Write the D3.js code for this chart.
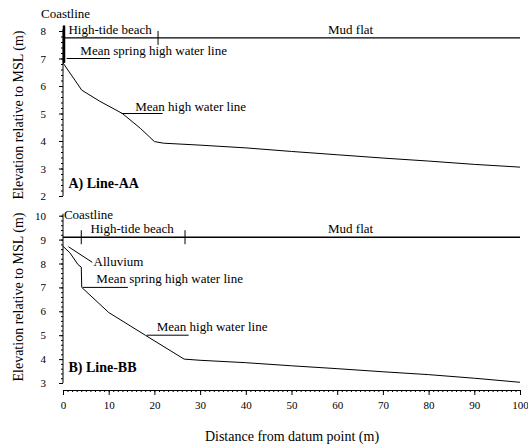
<!DOCTYPE html>
<html>
<head>
<meta charset="utf-8">
<script src="https://cdn.jsdelivr.net/npm/d3@7"></script>
<style>
  body { margin: 0; background: #fff; }
  text { fill: #000; }
</style>
</head>
<body>
<svg width="528" height="446"></svg>
<script>
// profile A (Line-AA): distance (m) and elevation (m)
const distA = [0, 4.1, 8, 13, 17, 20, 22, 30, 40, 50, 60, 70, 80, 90, 100];
const elevA = [6.84, 5.85, 5.45, 5.0, 4.45, 3.98, 3.92, 3.85, 3.75, 3.62, 3.5, 3.38, 3.27, 3.15, 3.05];
// profile B (Line-BB)
const distB = [0, 1.5, 3.3, 4.0, 4.1, 10, 18, 26.5, 30, 40, 50, 60, 70, 80, 90, 100];
const elevB = [8.72, 8.45, 7.95, 7.85, 7.0, 5.95, 5.0, 4.0, 3.95, 3.85, 3.72, 3.6, 3.47, 3.35, 3.2, 3.03];

// zone boundaries along the beach line
const zonesA = [0, 20.8];
const zonesB = [0, 4, 26.7];
const beachLevelA = 7.75;
const beachLevelB = 9.1;

const yTicksA = [2, 3, 4, 5, 6, 7, 8];
const yTicksB = [3, 4, 5, 6, 7, 8, 9, 10];
const xTicks = [0, 10, 20, 30, 40, 50, 60, 70, 80, 90, 100];

const serif = "'Liberation Serif', 'Times New Roman', Times, serif";

let svg = d3.select("svg");

let x = d3.scaleLinear().domain([0, 100]).range([63, 520]);
let yA = d3.scaleLinear().domain([2, 8]).range([196, 31]);
let yB = d3.scaleLinear().domain([3, 10]).range([383, 215.7]);

function yAxis(y, ticks) {
  let g = svg.append("g").attr("transform", "translate(" + x(0) + ",0)");
  g.call(d3.axisLeft(y).tickValues(d3.range(ticks[0], ticks[ticks.length - 1] + 0.01, 0.2))
    .tickSize(2).tickFormat(""));
  g.call((s) => s.selectAll(".domain").remove());
  let g2 = svg.append("g").attr("transform", "translate(" + x(0) + ",0)");
  g2.call(d3.axisLeft(y).tickValues(ticks).tickSize(4).tickPadding(13).tickFormat(d3.format("d")));
  g2.selectAll("text").style("font-size", "11px");
  g2.select(".domain").attr("d", "M-0," + y(ticks[0]) + "V" + (y(ticks[ticks.length - 1]) - 2));
}
yAxis(yA, yTicksA);
yAxis(yB, yTicksB);

// x axis
let gx = svg.append("g").attr("transform", "translate(0,390)");
gx.call(d3.axisBottom(x).tickValues(d3.range(0, 101, 1)).tickSize(2).tickFormat(""));
gx.select(".domain").remove();
let gx2 = svg.append("g").attr("transform", "translate(0,390)");
gx2.call(d3.axisBottom(x).tickValues(xTicks).tickSize(5).tickPadding(6).tickSizeOuter(0));
gx2.selectAll("text").style("font-size", "11px");

svg.selectAll(".tick line, .domain").attr("stroke", "#000");

// axis titles
svg.append("text").attr("transform", "translate(23,115) rotate(-90)")
  .attr("text-anchor", "middle").style("font-size", "14px")
  .text("Elevation relative to MSL (m)");
svg.append("text").attr("transform", "translate(23,297) rotate(-90)")
  .attr("text-anchor", "middle").style("font-size", "14px")
  .text("Elevation relative to MSL (m)");
svg.append("text").attr("x", 292).attr("y", 441)
  .attr("text-anchor", "middle").style("font-size", "14px")
  .text("Distance from datum point (m)");

let line = (y) => d3.line().x((d) => x(d[0])).y((d) => y(d[1]));

// profiles
svg.append("path").datum(d3.zip(distA, elevA))
  .attr("d", line(yA)).attr("fill", "none").attr("stroke", "#000").attr("stroke-width", 1);
svg.append("path").datum(d3.zip(distB, elevB))
  .attr("d", line(yB)).attr("fill", "none").attr("stroke", "#000").attr("stroke-width", 1);

// beach / mud flat lines
function zoneLine(y, level, zones) {
  svg.append("line").attr("x1", x(0)).attr("x2", x(100))
    .attr("y1", y(level)).attr("y2", y(level))
    .attr("stroke", "#000").attr("stroke-width", 1.4);
  svg.selectAll(null).data(zones.slice(1)).enter().append("line")
    .attr("x1", (d) => x(d)).attr("x2", (d) => x(d))
    .attr("y1", y(level) - 7).attr("y2", y(level) + 7)
    .attr("stroke", "#000").attr("stroke-width", 1);
}
zoneLine(yA, beachLevelA, zonesA);
zoneLine(yB, beachLevelB, zonesB);

// coastline bar on A
svg.append("line").attr("x1", x(0) + 1).attr("x2", x(0) + 1)
  .attr("y1", yA(8.2)).attr("y2", yA(6.84))
  .attr("stroke", "#000").attr("stroke-width", 2.5);

function label(tx, ty, txt, size, weight) {
  svg.append("text").attr("x", tx).attr("y", ty)
    .style("font-size", (size || 13) + "px")
    .style("font-weight", weight || "normal")
    .text(txt);
}
function leader(x1, y1, x2, y2) {
  svg.append("line").attr("x1", x1).attr("y1", y1).attr("x2", x2).attr("y2", y2)
    .attr("stroke", "#000").attr("stroke-width", 1);
}

// panel A annotations
label(41, 18, "Coastline");
label(x(1.2), yA(7.75) - 4, "High-tide beach");
label(x(58), yA(7.75) - 4, "Mud flat");
leader(x(0.8), yA(7.0), x(10.3), yA(7.0));
label(x(3.8), yA(7.0) - 4, "Mean spring high water line");
leader(x(12.8), yA(5.0), x(21.8), yA(5.0));
label(x(15.8), yA(5.0) - 3, "Mean high water line");
label(x(1.2), yA(2.3), "A) Line-AA", 14, "bold");

// panel B annotations
label(x(0.2), yB(9.88), "Coastline");
label(x(6), yB(9.1) - 4, "High-tide beach");
label(x(58), yB(9.1) - 4, "Mud flat");
leader(x(1.2), yB(8.7), x(6.4), yB(8.05));
label(x(6.7), yB(7.9), "Alluvium");
leader(x(4.3), yB(7.0), x(14.2), yB(7.0));
label(x(7.3), yB(7.0) - 4, "Mean spring high water line");
leader(x(18.3), yB(5.0), x(27.5), yB(5.0));
label(x(20.5), yB(5.0) - 4, "Mean high water line");
label(x(1.2), yB(3.45), "B) Line-BB", 14, "bold");

svg.selectAll("text").style("font-family", serif).attr("font-family", serif);
</script>
</body>
</html>
